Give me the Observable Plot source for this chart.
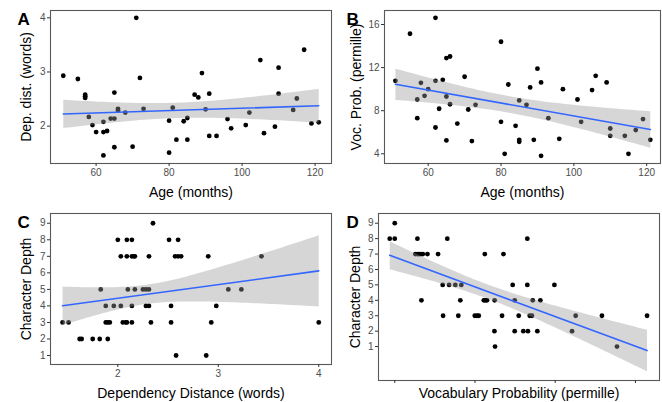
<!DOCTYPE html>
<html>
<head>
<meta charset="utf-8">
<script src="https://cdn.jsdelivr.net/npm/d3@7"></script>
<script src="https://cdn.jsdelivr.net/npm/@observablehq/plot@0.6"></script>
<style>
  body { margin: 0; background: white; }
  #wrap { position: relative; width: 662px; height: 402px; background: white; font-family: "Liberation Sans", Arial, sans-serif; }
  .panel { position: absolute; }
</style>
</head>
<body>
<div id="wrap"></div>
<script>
// Panel A: Age (months) vs Dependency distance (words)
const ageA = [51,55,57,57,57,58,59,60,62,62,62,63,64,65,65,65,66,66,68,70,71,72,73,80,80,81,82,84,85,85,87,88,89,90,91,91,93,96,97,101,102,105,106,109,110,110,114,115,117,119,121];
const depDistA = [2.93,2.87,2.58,2.55,2.52,2.17,2.02,1.89,2.08,1.89,1.46,1.91,2.14,2.62,2.14,1.61,2.32,2.29,2.25,1.62,4.0,2.89,2.32,2.1,1.51,2.34,1.75,2.09,2.15,1.75,2.58,2.53,2.98,2.31,2.6,1.82,1.82,2.13,1.96,2.02,2.25,3.22,1.87,1.99,3.08,2.6,2.3,2.51,3.41,2.05,2.07];

// Panel B: Age (months) vs Vocabulary probability (permille)
const ageB = [51,55,57,57,58,59,60,62,62,62,63,64,65,65,65,66,66,68,70,71,72,73,80,80,81,82,84,85,85,85,87,88,89,90,91,91,93,96,97,101,102,105,106,109,110,110,114,115,117,119,121];
const vocProbB = [10.77,15.14,9.04,7.31,10.59,9.38,10.0,16.62,10.77,6.44,8.18,10.87,9.32,5.24,12.88,13.03,8.6,6.81,11.15,8.11,5.18,8.55,14.4,6.97,4.0,10.43,6.6,8.95,5.3,5.11,8.55,10.16,5.3,11.9,10.62,3.81,7.31,5.39,10.0,9.04,6.97,9.91,11.24,10.62,6.35,5.67,5.67,4.0,6.2,7.22,5.3];

// Panel C: Dependency distance (words) vs Character depth
const depDistC = [1.45,1.51,1.62,1.64,1.75,1.82,1.90,1.83,1.88,1.88,1.90,1.92,1.96,2.00,2.03,2.03,2.05,2.08,2.09,2.09,2.09,2.14,2.10,2.14,2.16,2.17,2.14,2.14,2.17,2.25,2.28,2.31,2.28,2.31,2.31,2.33,2.35,2.51,2.53,2.53,2.58,2.57,2.60,2.63,2.60,2.88,2.90,2.93,2.98,3.10,3.23,3.43,4.0];
const charDepthC = [3,3,2,2,2,2,2,5,4,3,3,3,4,8,4,7,3,3,3,7,8,8,5,7,7,7,4,3,5,5,5,5,4,4,7,3,9,8,4,3,1,7,7,7,8,1,7,3,4,5,5,7,3];

// Panel D: Vocabulary probability (permille) vs Character depth
const vocProbD = [3.75,4.0,4.0,5.13,5.03,5.13,5.21,5.3,5.4,5.63,5.33,6.16,6.41,6.39,6.62,6.71,7.02,7.32,7.17,7.27,7.99,8.1,8.19,8.49,8.44,8.52,8.6,8.97,8.98,9.0,9.35,9.42,9.88,9.98,9.98,10.18,10.41,10.64,10.61,10.61,10.73,10.84,10.88,11.11,11.26,11.96,12.84,13.02,14.33,15.08,16.58];
const charDepthD = [8,9,8,8,7,7,7,7,7,7,4,7,3,5,8,5,5,5,3,4,3,3,3,7,4,4,4,2,4,1,3,7,5,4,2,3,2,2,8,5,3,3,4,2,4,5,2,3,3,1,3];

// Tick values
const ageTicks = [60, 80, 100, 120];
const depTicksA = [2, 3, 4];
const vocTicksB = [4, 8, 12, 16];
const depTicksC = [2, 3, 4];
const depthTicks = [1, 2, 3, 4, 5, 6, 7, 8, 9];
const vocTicksD = [4, 8, 12, 16];

const toRows = (xs, ys) => xs.map((x, i) => ({x, y: ys[i]}));

function panel(cfg) {
  const data = toRows(cfg.xs, cfg.ys);
  const chart = Plot.plot({
    width: cfg.width,
    height: cfg.height,
    marginLeft: cfg.ml, marginRight: cfg.mr, marginTop: cfg.mt, marginBottom: cfg.mb,
    style: {fontFamily: '"Liberation Sans", Arial, sans-serif', fontSize: "10px", background: "white"},
    x: {domain: cfg.xdomain},
    y: {domain: cfg.ydomain},
    marks: [
      Plot.dot(data, {x: "x", y: "y", r: 2.4, fill: "black", stroke: null}),
      Plot.linearRegressionY(data, {x: "x", y: "y", stroke: "#3366FF", strokeWidth: 1.6, fill: "#999999", fillOpacity: 0.4, ci: 0.95}),
      Plot.frame({stroke: "#595959", strokeWidth: 1.1}),
      Plot.axisX({ticks: cfg.xticks, tickSize: 3, tickPadding: 2, label: null, stroke: "#333", fill: "#4d4d4d", fontSize: 10,
                  tickFormat: cfg.hideX ? () => "" : (d => String(d))}),
      Plot.axisY({ticks: cfg.yticks, tickSize: 3, tickPadding: 2, label: null, stroke: "#333", fill: "#4d4d4d", fontSize: 10,
                  tickFormat: d => String(d)}),
      Plot.text([cfg.xlabel], {frameAnchor: "bottom", textAnchor: "middle", lineAnchor: "middle", dy: cfg.xlabelDy, fontSize: 14, fill: "black"}),
      Plot.text([cfg.ylabel], {frameAnchor: "left", textAnchor: "middle", lineAnchor: "middle", rotate: -90, dx: cfg.ylabelDx, fontSize: 14, fill: "black"}),
      Plot.text([cfg.tag], {frameAnchor: "top-left", textAnchor: "start", lineAnchor: "middle", dx: cfg.tagDx, dy: cfg.tagDy, fontSize: 17, fontWeight: "bold", fill: "black"})
    ]
  });
  const div = document.createElement("div");
  div.className = "panel";
  div.style.left = cfg.left + "px";
  div.style.top = cfg.top + "px";
  div.appendChild(chart);
  document.getElementById("wrap").appendChild(div);
}

panel({tag: "A", left: 0, top: 0, width: 333, height: 201, ml: 50, mr: 2, mt: 10, mb: 38,
  xs: ageA, ys: depDistA, xdomain: [47.5, 124.5], ydomain: [1.31, 4.135], xticks: ageTicks, yticks: depTicksA,
  xlabel: "Age (months)", ylabel: "Dep. dist. (words)", xlabelDy: 29, ylabelDx: -23.7, tagDx: -33, tagDy: 9.5});

panel({tag: "B", left: 333, top: 0, width: 329, height: 201, ml: 51, mr: 2, mt: 10, mb: 38,
  xs: ageB, ys: vocProbB, xdomain: [48.0, 123.8], ydomain: [3.1, 17.3], xticks: ageTicks, yticks: vocTicksB,
  xlabel: "Age (months)", ylabel: "Voc. Prob. (permille)", xlabelDy: 29, ylabelDx: -28.3, tagDx: -38, tagDy: 9.5});

panel({tag: "C", left: 0, top: 201, width: 333, height: 201, ml: 50, mr: 2, mt: 12, mb: 38,
  xs: depDistC, ys: charDepthC, xdomain: [1.33, 4.127], ydomain: [0.456, 9.59], xticks: depTicksC, yticks: depthTicks,
  xlabel: "Dependency Distance (words)", ylabel: "Character Depth", xlabelDy: 29, ylabelDx: -23.7, tagDx: -33, tagDy: 9});

panel({tag: "D", left: 333, top: 201, width: 329, height: 201, ml: 45, mr: 3, mt: 12, mb: 22,
  xs: vocProbD, ys: charDepthD, xdomain: [3.19, 17.2], ydomain: [-1.2, 9.63], xticks: vocTicksD, yticks: depthTicks, hideX: true,
  xlabel: "Vocabulary Probability (permille)", ylabel: "Character Depth", xlabelDy: 13.5, ylabelDx: -23, tagDx: -32, tagDy: 9});
</script>
</body>
</html>
